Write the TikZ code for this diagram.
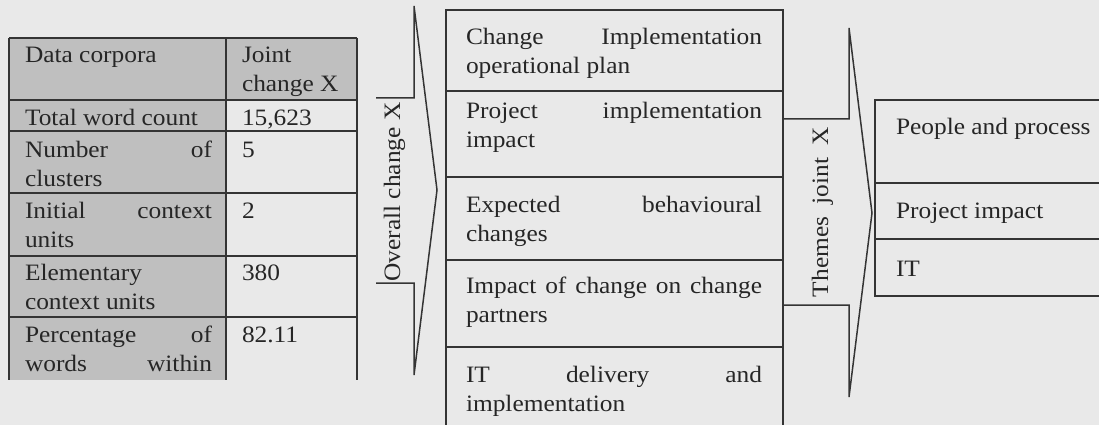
\documentclass[tikz,border=0pt]{standalone}
\usepackage{fontspec}
\setmainfont[FakeStretch=1.08]{Liberation Serif}
\definecolor{bgc}{RGB}{233,233,233}
\definecolor{cellgray}{RGB}{191,191,191}
\definecolor{linec}{RGB}{52,52,52}
\definecolor{txtc}{RGB}{38,38,38}
\newcommand\jl[2]{\makebox[#1][s]{#2}}
\tikzset{
  tx/.style={inner sep=0pt, outer sep=0pt, anchor=base west, text=txtc,
    font=\fontsize{23.5}{29}\selectfont},
  tabline/.style={draw=linec, line width=1.4pt},
  boxline/.style={draw=linec, line width=1.7pt},
  chev/.style={draw=linec, line width=1.5pt, line join=miter},
}
\begin{document}
\begin{tikzpicture}[x=1pt,y=-1pt]
\useasboundingbox (0,0) rectangle (1099,425);
\clip (0,0) rectangle (1099,425);
\fill[bgc] (0,0) rectangle (1099,425);

% ---------- table ----------
\fill[cellgray] (9,38) rectangle (357,100);
\fill[cellgray] (9,100) rectangle (226,380);
\foreach \yy in {38,100,131,193,256,317}
  \draw[tabline] (9,\yy) -- (357,\yy);
\foreach \xx in {9,226,357}
  \draw[tabline] (\xx,38) -- (\xx,380);

\node[tx] (h1) at (25,63) {Data corpora};
\node[tx] (h2) at (242,63) {\parbox[t]{110pt}{Joint\\change X}};
\node[tx] (r1) at (25,125) {Total word count};
\node[tx] (v1) at (242,125) {15,623};
\node[tx] (r2) at (25,157) {\parbox[t]{187pt}{\jl{187pt}{Number of}\\clusters}};
\node[tx] (v2) at (242,157) {5};
\node[tx] (r3) at (25,218) {\parbox[t]{187pt}{\jl{187pt}{Initial context}\\units}};
\node[tx] (v3) at (242,218) {2};
\node[tx] (r4) at (25,280) {\parbox[t]{187pt}{Elementary\\context units}};
\node[tx] (v4) at (242,280) {380};
\node[tx] (r5) at (25,342) {\parbox[t]{187pt}{\jl{187pt}{Percentage of}\\\jl{187pt}{words within}}};
\node[tx] (v5) at (242,342) {82.11};

% ---------- first chevron ----------
\draw[chev] (376,98) -- (414,98) -- (414,6) -- (437,190) -- (414,375) -- (414,283) -- (376,283);
\node[tx, anchor=base, rotate=90] (c1) at (400,192) {Overall change X};

% ---------- middle boxes ----------
\draw[boxline] (446,440) -- (446,10) -- (783,10) -- (783,440);
\foreach \yy in {91,177,260,347}
  \draw[boxline] (446,\yy) -- (783,\yy);
\node[tx] (m1) at (466,45) {\parbox[t]{296pt}{\jl{296pt}{Change Implementation}\\operational plan}};
\node[tx] (m2) at (466,118) {\parbox[t]{296pt}{\jl{296pt}{Project implementation}\\impact}};
\node[tx] (m3) at (466,212) {\parbox[t]{296pt}{\jl{296pt}{Expected behavioural}\\changes}};
\node[tx] (m4) at (466,293) {\parbox[t]{296pt}{\jl{296pt}{Impact of change on change}\\partners}};
\node[tx] (m5) at (466,382) {\parbox[t]{296pt}{\jl{296pt}{IT delivery and}\\implementation}};

% ---------- second chevron ----------
\draw[chev] (783,119) -- (849,119) -- (849,28) -- (872,213) -- (849,397) -- (849,305) -- (783,305);
\node[tx, anchor=base, rotate=90] (c2) at (828,212) {\makebox[170pt][s]{Themes joint X}};

% ---------- right boxes ----------
\draw[boxline] (1110,100) -- (875,100) -- (875,296) -- (1110,296);
\foreach \yy in {183,239}
  \draw[boxline] (875,\yy) -- (1110,\yy);
\node[tx] (p1) at (896,135) {People and process};
\node[tx] (p2) at (896,218) {Project impact};
\node[tx] (p3) at (896,276) {IT};
\end{tikzpicture}
\end{document}
